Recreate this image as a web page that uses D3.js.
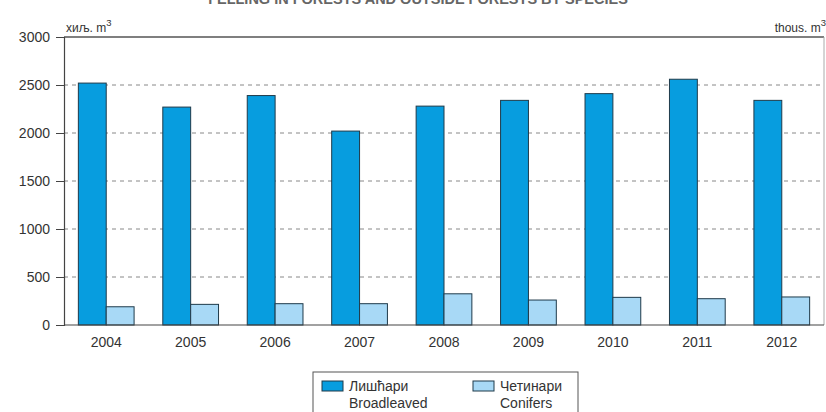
<!DOCTYPE html>
<html><head><meta charset="utf-8">
<script src="https://cdn.jsdelivr.net/npm/d3@7"></script>
<style>body{margin:0;background:#fff;} svg{display:block;font-family:"Liberation Sans",Arial,sans-serif;}</style>
</head><body>
<svg id="c" width="826" height="412"></svg>
<script>
const years = ["2004","2005","2006","2007","2008","2009","2010","2011","2012"];
const broadleaved = [2520, 2270, 2390, 2020, 2280, 2340, 2410, 2560, 2340];
const conifers = [190, 215, 222, 222, 325, 260, 288, 274, 292];
const yTicks = [0, 500, 1000, 1500, 2000, 2500, 3000];
const seriesNames = [["Лишћари","Broadleaved"],["Четинари","Conifers"]];
const colors = ["#079ddf", "#a8d9f6"];

const svg = d3.select("#c");
const m = {left:64, right:2, top:37, bottom:88};
const W = 826, H = 412;
const x = d3.scaleBand().domain(years).range([m.left, W - m.right]).paddingInner(0.34).paddingOuter(0.17);
const y = d3.scaleLinear().domain([0, 3000]).range([325, 37]);

// title (cut off at top as in reference)
svg.append("text").attr("x", 418).attr("y", 4).attr("text-anchor","middle")
  .attr("font-size", 14.5).attr("font-weight","bold").attr("fill","#666")
  .text("FELLING IN FORESTS AND OUTSIDE FORESTS BY SPECIES");

// grid
svg.append("g").selectAll("line").data(yTicks.filter(d => d > 0 && d < 3000)).join("line")
  .attr("x1", m.left).attr("x2", W - 2).attr("y1", d => y(d)).attr("y2", d => y(d))
  .attr("stroke", "#888").attr("stroke-width", 1).attr("stroke-dasharray", "4,4");

// frame top and right
svg.append("line").attr("x1", m.left).attr("x2", 824).attr("y1", y(3000)).attr("y2", y(3000))
  .attr("stroke", "#555").attr("stroke-width", 1.3);
svg.append("line").attr("x1", 824).attr("x2", 824).attr("y1", y(3000)).attr("y2", y(0))
  .attr("stroke", "#aaa").attr("stroke-width", 1);

// bars
const inner = d3.scaleBand().domain([0,1]).range([0, x.bandwidth()]);
const g = svg.append("g");
years.forEach((yr, i) => {
  [broadleaved[i], conifers[i]].forEach((v, k) => {
    g.append("rect").attr("x", x(yr) + inner(k)).attr("width", inner.bandwidth())
      .attr("y", y(v)).attr("height", y(0) - y(v))
      .attr("fill", colors[k]).attr("stroke", "#1f3a4a").attr("stroke-width", 1);
  });
});

// axes
const yAxis = d3.axisLeft(y).tickValues(yTicks).tickSize(8).tickPadding(6).tickFormat(d3.format("d"));
const ya = svg.append("g").attr("transform", `translate(${m.left},0)`).call(yAxis);
ya.select(".domain").attr("stroke", "#444").attr("stroke-width", 1.2);
ya.selectAll(".tick line").attr("stroke", "#444");
ya.selectAll("text").attr("font-size", 14).attr("fill", "#333").attr("font-family", "Liberation Sans, Arial, sans-serif");

const xAxis = d3.axisBottom(x).tickSize(0).tickPadding(12);
const xa = svg.append("g").attr("transform", `translate(0,${y(0)})`).call(xAxis);
xa.select(".domain").remove();
xa.selectAll("text").attr("font-size", 14).attr("fill", "#333").attr("font-family", "Liberation Sans, Arial, sans-serif");
svg.append("line").attr("x1", m.left).attr("x2", W - 2).attr("y1", y(0)).attr("y2", y(0))
  .attr("stroke", "#444").attr("stroke-width", 1.2);

// unit labels
const u1 = svg.append("text").attr("x", 66).attr("y", 32).attr("font-size", 12).attr("fill", "#333");
u1.append("tspan").text("хиљ. m");
u1.append("tspan").attr("dy", -6).attr("font-size", 9.5).text("3");
const u2 = svg.append("text").attr("x", 826).attr("y", 32).attr("font-size", 12).attr("fill", "#333").attr("text-anchor","end");
u2.append("tspan").text("thous. m");
u2.append("tspan").attr("dy", -6).attr("font-size", 9.5).text("3");

// legend
const lg = svg.append("g");
lg.append("rect").attr("x", 313).attr("y", 372).attr("width", 265).attr("height", 50)
  .attr("fill", "#fff").attr("stroke", "#555").attr("stroke-width", 1);
const lx = [322, 473];
seriesNames.forEach((nm, k) => {
  lg.append("rect").attr("x", lx[k]).attr("y", 381).attr("width", 21).attr("height", 10)
    .attr("fill", colors[k]).attr("stroke", "#1f3a4a");
  lg.append("text").attr("x", lx[k] + 27).attr("y", 391).attr("font-size", 14).attr("fill", "#333").text(nm[0]);
  lg.append("text").attr("x", lx[k] + 27).attr("y", 408).attr("font-size", 14).attr("fill", "#333").text(nm[1]);
});
</script>
</body></html>
